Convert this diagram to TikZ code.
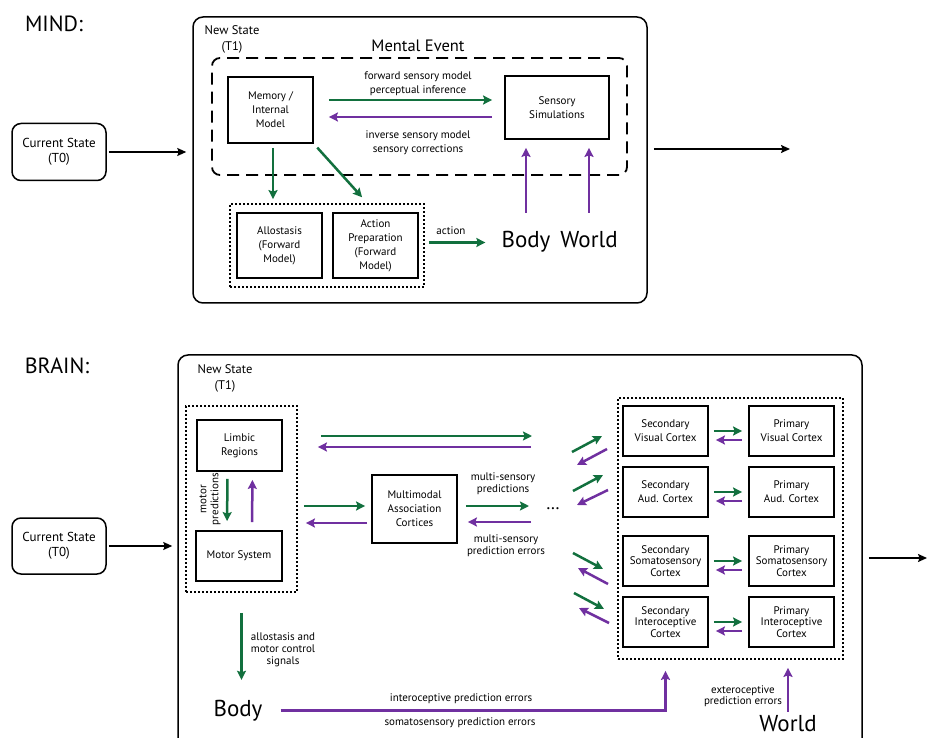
\documentclass[tikz,border=0pt]{standalone}
\usepackage{fontspec}
\setmainfont{PT Sans}
\usetikzlibrary{arrows.meta}
\definecolor{mindgreen}{RGB}{18,112,62}
\definecolor{mindpurple}{RGB}{112,48,160}

\tikzset{
	box/.style={draw,line width=1.8pt,minimum width=85pt,align=center,inner sep=1pt,font=\fontsize{11}{14}\selectfont},
	tightbox/.style={box,font=\fontsize{11}{11.5}\selectfont},
	statebox/.style={draw,line width=1.5pt,rounded corners=9pt,minimum width=94pt,minimum height=57pt,align=center,font=\fontsize{13}{15}\selectfont},
	outerbox/.style={draw,line width=1.5pt,rounded corners=10pt},
	dashbox/.style={draw,line width=1.8pt,dash pattern=on 12pt off 7pt,rounded corners=8pt},
	dotbox/.style={draw,line width=1.8pt,dash pattern=on 2pt off 2pt},
	lbl/.style={align=center,inner sep=1pt,font=\fontsize{11}{12}\selectfont},
	statelbl/.style={align=center,inner sep=1pt,font=\fontsize{12.5}{16}\selectfont},
	title/.style={inner sep=0pt,font=\fontsize{22}{24}\selectfont},
	big/.style={inner sep=3pt,text height=16pt,text depth=5pt,font=\fontsize{23}{24}\selectfont},
	garrow/.style={draw=mindgreen,line width=2.5pt,-{Stealth[length=9pt,width=9pt,inset=1.5pt]}},
	parrow/.style={draw=mindpurple,line width=2.5pt,-{Stealth[length=9pt,width=9pt,inset=1.5pt]}},
	karrow/.style={draw=black,line width=1.5pt,-{Stealth[length=9pt,width=8pt,inset=1.5pt]}}
}

\begin{document}
\begin{tikzpicture}[x=1pt,y=-1pt]
	\useasboundingbox (0,0) rectangle (930,738);
	\clip (0,0) rectangle (930,738);

	% mind
	\node[title] (mindtitle) at (54,24) {MIND:};
	\node[statebox] (cur1) at (59,152) {Current State\\(T0)};
	\node[outerbox,minimum width=454pt,minimum height=286pt] (mind) at (420,160) {};
	\node[statelbl] (new1) at (232,39) {New State\\(T1)};
	\node[font=\fontsize{16.5}{18}\selectfont] (mental) at (418,46) {Mental Event};
	\node[dashbox,minimum width=415pt,minimum height=117pt] (dashm) at (419.5,116.5) {};
	\node[box,minimum height=66pt] (mem) at (270.5,110) {Memory /\\Internal\\Model};
	\node[box,minimum width=104pt,minimum height=63pt] (sens) at (557,107.5) {Sensory\\Simulations};
	\node[lbl,font=\fontsize{11}{14}\selectfont] (fwdlbl) at (418,84) {forward sensory model\\perceptual inference};
	\node[lbl,font=\fontsize{11}{14}\selectfont] (invlbl) at (418,143) {inverse sensory model\\sensory corrections};
	\node[dotbox,minimum width=194pt,minimum height=83pt] (dotm) at (327,245.5) {};
	\node[box,minimum height=65pt] (allo) at (279.5,245.5) {Allostasis\\(Forward\\Model)};
	\node[box,minimum height=65pt] (act) at (375.5,245.5) {Action\\Preparation\\(Forward\\Model)};
	\node[lbl] (actlbl) at (451,231) {action};
	\node[big,anchor=base] (body1) at (526,248) {Body};
	\node[big,anchor=base] (world1) at (589,248) {World};

	\coordinate (fwdy) at (0,100);
	\coordinate (invy) at (0,117);
	\coordinate (memdown) at (273,0);
	\coordinate (mindout) at (790,149);
	\draw[karrow,shorten <=2pt,shorten >=6pt] (cur1.east) -- (cur1.east -| mind.west);
	\draw[garrow,shorten <=15pt,shorten >=12pt] (mem.east |- fwdy) -- (sens.west |- fwdy);
	\draw[parrow,shorten <=12pt,shorten >=15pt] (sens.west |- invy) -- (mem.east |- invy);
	\draw[garrow,shorten <=4pt,shorten >=13pt] (mem.south -| memdown) -- (allo.north -| memdown);
	\draw[garrow,shorten <=5pt,shorten >=20pt] (mem.south east) -- (act.north);
	\draw[garrow,shorten <=4pt,shorten >=13pt] (dotm.east |- body1.west) -- (body1.west);
	\draw[parrow,shorten <=16pt,shorten >=8pt] (body1.north) -- (body1.north |- sens.south);
	\draw[parrow,shorten <=16pt,shorten >=8pt] (world1.north) -- (world1.north |- sens.south);
	\draw[karrow,shorten <=6pt] (mind.east |- mindout) -- (mindout);

	% brain
	\node[title] (braintitle) at (57,366) {BRAIN:};
	\node[statebox,minimum height=56pt] (cur2) at (59,546) {Current State\\(T0)};
	\node[outerbox,minimum width=684pt,minimum height=395pt] (brain) at (520,552.5) {};
	\node[statelbl] (new2) at (225,378) {New State\\(T1)};
	\node[dotbox,minimum width=111pt,minimum height=186pt] (lbox) at (241.5,499) {};
	\node[box,minimum height=51pt] (limbic) at (239.5,445.5) {Limbic\\Regions};
	\node[box,minimum width=86pt,minimum height=50pt] (motor) at (239,556) {Motor System};
	\node[lbl,rotate=90] (motlbl) at (210,499) {motor\\predictions};
	\node[box,minimum height=68pt] (mm) at (414.5,509) {Multimodal\\Association\\Cortices};
	\node[lbl] (mspred) at (503,484) {multi-sensory\\predictions};
	\node[lbl] (mserr) at (506,546) {multi-sensory\\prediction errors};
	\node[font=\fontsize{18}{20}\selectfont] (dots) at (553,509) {\dots};

	\node[dotbox,minimum width=225pt,minimum height=261pt] (rbox) at (730.5,528.5) {};
	\node[box,minimum height=50pt] (secvis) at (665.5,431) {Secondary\\Visual Cortex};
	\node[box,minimum height=50pt] (primvis) at (791.5,431) {Primary\\Visual Cortex};
	\node[box,minimum height=50pt] (secaud) at (665.5,492) {Secondary\\Aud. Cortex};
	\node[box,minimum height=50pt] (primaud) at (791.5,492) {Primary\\Aud. Cortex};
	\node[tightbox,minimum height=50pt] (secsom) at (665.5,561) {Secondary\\Somatosensory\\Cortex};
	\node[tightbox,minimum height=50pt] (primsom) at (791.5,561) {Primary\\Somatosensory\\Cortex};
	\node[tightbox,minimum height=50pt] (secint) at (665.5,622) {Secondary\\Interoceptive\\Cortex};
	\node[tightbox,minimum height=50pt] (primint) at (791.5,622) {Primary\\Interoceptive\\Cortex};

	\node[big,anchor=base] (body2) at (238,716) {Body};
	\node[lbl] (allolbl) at (283,650) {allostasis and\\motor control\\signals};
	\node[lbl] (intlbl) at (461,699) {interoceptive prediction errors};
	\node[lbl] (somlbl) at (460,723) {somatosensory prediction errors};
	\node[big,anchor=base] (world2) at (788,731) {World};
	\node[lbl,font=\fontsize{11}{11.5}\selectfont] (extlbl) at (743,696) {exteroceptive\\prediction errors};

	\coordinate (topg) at (532,436);
	\coordinate (topp) at (531,447);
	\coordinate (mmg) at (0,506);
	\coordinate (mmp) at (0,523);
	\coordinate (msg) at (529,506);
	\coordinate (msp) at (531,522);
	\coordinate (brainout) at (927,558);
	\draw[karrow,shorten <=2pt,shorten >=5pt] (cur2.east) -- (cur2.east -| brain.west);
	\draw[garrow,shorten <=7pt,shorten >=9pt] ([xshift=-12pt]limbic.south) -- ([xshift=-12pt]motor.north);
	\draw[parrow,shorten <=8pt,shorten >=8pt] ([xshift=13pt]motor.north) -- ([xshift=13pt]limbic.south);
	\draw[garrow,shorten <=23pt] (lbox.east |- topg) -- (topg);
	\draw[parrow,shorten >=20pt] (topp) -- (lbox.east |- topp);
	\draw[garrow,shorten <=6pt,shorten >=6pt] (lbox.east |- mmg) -- (mm.west |- mmg);
	\draw[parrow,shorten <=4pt,shorten >=8pt] (mm.west |- mmp) -- (lbox.east |- mmp);
	\draw[garrow,shorten <=8pt] (mm.east |- msg) -- (msg);
	\draw[parrow,shorten >=10pt] (msp) -- (mm.east |- msp);

	\coordinate (dg1) at (572,452);
	\coordinate (dp1) at (607,449);
	\coordinate (dg2) at (573,491);
	\coordinate (dp2) at (608,490);
	\coordinate (dg3) at (573,553);
	\coordinate (dp3) at (608,584);
	\coordinate (dg4) at (574,593);
	\coordinate (dp4) at (609,623);
	\draw[garrow] (dg1) -- ++(30,-16);
	\draw[parrow] (dp1) -- ++(-30,16);
	\draw[garrow] (dg2) -- ++(30,-16);
	\draw[parrow] (dp2) -- ++(-31,15);
	\draw[garrow] (dg3) -- ++(30,16);
	\draw[parrow] (dp3) -- ++(-30,-16);
	\draw[garrow] (dg4) -- ++(30,16);
	\draw[parrow] (dp4) -- ++(-30,-15);

	\foreach \r in {vis,aud,som,int}{
		\draw[garrow,shorten <=5pt,shorten >=6pt] (sec\r.east) -- (prim\r.west);
		\draw[parrow,shorten <=6pt,shorten >=7pt] ([yshift=-9pt]prim\r.west) -- ([yshift=-9pt]sec\r.east);
	}

	\draw[garrow,shorten <=20pt,shorten >=17pt] (lbox.south) -- (lbox.south |- body2.north);
	\draw[parrow,shorten <=15pt,shorten >=11pt] (body2.east) -| (secint.south |- rbox.south);
	\draw[parrow,shorten >=8pt] (world2.north) -- (world2.north |- rbox.south);
	\draw[karrow,shorten <=6pt] (brain.east |- brainout) -- (brainout);
\end{tikzpicture}
\end{document}
